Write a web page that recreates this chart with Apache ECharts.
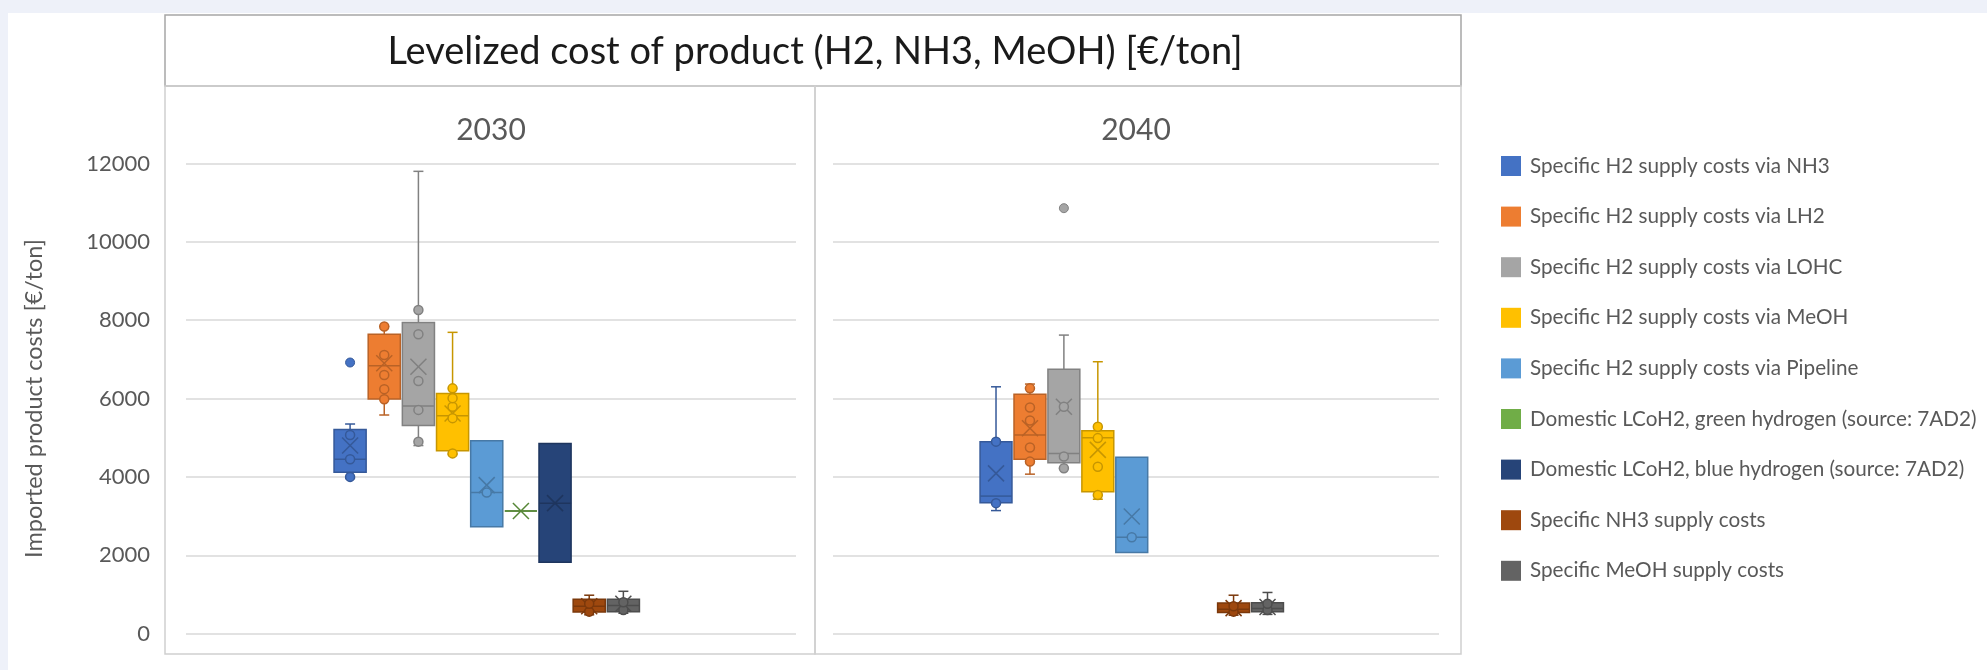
<!DOCTYPE html>
<html><head><meta charset="utf-8">
<script src="https://cdn.jsdelivr.net/npm/echarts@6/dist/echarts.min.js"></script>
<style>html,body{margin:0;padding:0;background:#fff;} #c{width:1987px;height:670px;}</style>
</head><body><div id="c"></div>
<script>
const years = ['2030', '2040'];
const seriesNames = [
  'Specific H2 supply costs via NH3',
  'Specific H2 supply costs via LH2',
  'Specific H2 supply costs via LOHC',
  'Specific H2 supply costs via MeOH',
  'Specific H2 supply costs via Pipeline',
  'Domestic LCoH2, green hydrogen (source: 7AD2)',
  'Domestic LCoH2, blue hydrogen (source: 7AD2)',
  'Specific NH3 supply costs',
  'Specific MeOH supply costs'
];
const seriesColors = ['#4472C4', '#ED7D31', '#A5A5A5', '#FFC000', '#5B9BD5', '#70AD47', '#264478', '#9E480E', '#636363'];
const yMin = 0, yMax = 12000, yStep = 2000;

// box statistics per year: [min, q1, median, q3, max, mean]; null = no data
const boxNH3        = [[3960, 4120, 4450, 5210, 5350, 4800], [3140, 3340, 3510, 4900, 6300, 4090]];
const boxLH2        = [[5580, 5990, 6840, 7640, 7840, 6900], [4070, 4450, 5070, 6110, 6370, 5240]];
const boxLOHC       = [[4800, 5310, 5810, 7940, 11800, 6810], [4220, 4360, 4600, 6750, 7620, 5790]];
const boxMeOH       = [[4580, 4670, 5560, 6130, 7690, 5620], [3430, 3620, 5000, 5180, 6940, 4690]];
const boxPipeline   = [[2730, 2730, 3600, 4920, 4920, 3790], [2070, 2070, 2460, 4500, 4500, 2990]];
const boxGreen      = [[3130, 3130, 3130, 3130, 3130, 3130], null];
const boxBlue       = [[1820, 1820, 3330, 4850, 4850, 3330], null];
const boxNH3Supply  = [[480, 550, 700, 880, 980, 700], [470, 540, 620, 780, 980, 650]];
const boxMeOHSupply = [[520, 560, 720, 880, 1080, 760], [490, 560, 640, 790, 1050, 680]];

// inner data points per year
const ptsNH3        = [[4000, 4450, 5070], [3330, 4900]];
const ptsLH2        = [[5980, 6240, 6600, 7110, 7840], [4390, 4750, 5440, 5770, 6260]];
const ptsLOHC       = [[4900, 5710, 6450, 7640, 8260], [4220, 4520, 5790]];
const ptsMeOH       = [[4600, 5500, 5790, 6010, 6260], [3540, 4260, 4990, 5280]];
const ptsPipeline   = [[3600], [2460]];
const ptsGreen      = [[], []];
const ptsBlue       = [[], []];
const ptsNH3Supply  = [[560, 760], [560, 700]];
const ptsMeOHSupply = [[600, 800], [600, 760]];

// outliers per year
const outNH3  = [[6920], []];
const outLOHC = [[], [10860]];
const outNone = [[], []];

const boxData = [boxNH3, boxLH2, boxLOHC, boxMeOH, boxPipeline, boxGreen, boxBlue, boxNH3Supply, boxMeOHSupply];
const pointData = [ptsNH3, ptsLH2, ptsLOHC, ptsMeOH, ptsPipeline, ptsGreen, ptsBlue, ptsNH3Supply, ptsMeOHSupply];
const outlierData = [outNH3, outNone, outLOHC, outNone, outNone, outNone, outNone, outNone, outNone];

const FONT = 'Lato, "Open Sans", sans-serif';
const SLOT = 0.056, SHIFT = -0.007;

function darken(hex, f) {
  const n = parseInt(hex.slice(1), 16);
  const r = Math.round(((n >> 16) & 255) * (1 - f));
  const g = Math.round(((n >> 8) & 255) * (1 - f));
  const b = Math.round((n & 255) * (1 - f));
  return 'rgb(' + r + ',' + g + ',' + b + ')';
}

function renderBox(s, yi) {
  const color = seriesColors[s];
  const dark = darken(color, 0.22);
  return function (params, api) {
    const bw = api.size([1, 0])[0];
    const slot = bw * SLOT;
    const cx = api.coord([0, 0])[0] + (s - 4) * slot + SHIFT * bw;
    const half = slot * 0.47;
    const Y = v => api.coord([0, v])[1];
    const mn = api.value(1), q1 = api.value(2), md = api.value(3), q3 = api.value(4), mx = api.value(5), mean = api.value(6);
    const ls = { stroke: dark, lineWidth: 1.5 };
    const ch = [];
    const cap = 5;
    if (mx > q3) {
      ch.push({ type: 'line', shape: { x1: cx, y1: Y(mx), x2: cx, y2: Y(q3) }, style: ls });
      ch.push({ type: 'line', shape: { x1: cx - cap, y1: Y(mx), x2: cx + cap, y2: Y(mx) }, style: ls });
    }
    if (mn < q1) {
      ch.push({ type: 'line', shape: { x1: cx, y1: Y(q1), x2: cx, y2: Y(mn) }, style: ls });
      ch.push({ type: 'line', shape: { x1: cx - cap, y1: Y(mn), x2: cx + cap, y2: Y(mn) }, style: ls });
    }
    ch.push({ type: 'rect', shape: { x: cx - half, y: Y(q3), width: 2 * half, height: Math.max(Y(q1) - Y(q3), 0) },
      style: { fill: color, stroke: dark, lineWidth: 1.5 } });
    ch.push({ type: 'line', shape: { x1: cx - half, y1: Y(md), x2: cx + half, y2: Y(md) }, style: ls });
    const ym = Y(mean), mxw = 8, myh = 8;
    ch.push({ type: 'line', shape: { x1: cx - mxw, y1: ym - myh, x2: cx + mxw, y2: ym + myh }, style: ls });
    ch.push({ type: 'line', shape: { x1: cx - mxw, y1: ym + myh, x2: cx + mxw, y2: ym - myh }, style: ls });
    (pointData[s][yi] || []).forEach(v => {
      ch.push({ type: 'circle', shape: { cx: cx, cy: Y(v), r: 4.5 }, style: { fill: color, stroke: dark, lineWidth: 1.5 } });
    });
    (outlierData[s][yi] || []).forEach(v => {
      ch.push({ type: 'circle', shape: { cx: cx, cy: Y(v), r: 4.5 }, style: { fill: color, stroke: dark, lineWidth: 1 } });
    });
    return { type: 'group', children: ch };
  };
}

const series = [];
seriesNames.forEach((name, s) => {
  years.forEach((yr, yi) => {
    const st = boxData[s][yi];
    series.push({
      type: 'custom', name: name, xAxisIndex: yi, yAxisIndex: yi, z: 3,
      itemStyle: { color: seriesColors[s] },
      renderItem: renderBox(s, yi),
      encode: { x: 0, y: [1, 2, 3, 4, 5, 6] },
      data: st ? [[0].concat(st)] : []
    });
  });
});

const grids = [
  { left: 186, width: 610, top: 163.5, bottom: 36.4 },
  { left: 833, width: 606, top: 163.5, bottom: 36.4 }
];

const option = {
  backgroundColor: '#ffffff',
  animation: false,
  title: {
    text: 'Levelized cost of product (H2, NH3, MeOH) [€/ton]',
    left: 810, top: 28, textAlign: 'center',
    textStyle: { fontFamily: FONT, fontSize: 38, fontWeight: 'normal', color: '#1a1a1a' }
  },
  legend: {
    orient: 'vertical', left: 1496, top: 150.5, itemWidth: 20, itemHeight: 20, itemGap: 29.6,
    icon: 'rect', data: seriesNames,
    textStyle: { fontFamily: FONT, fontSize: 20.7, color: '#595959', padding: [0, 0, 0, 4] }
  },
  grid: grids,
  xAxis: years.map((yr, i) => ({
    type: 'category', gridIndex: i, data: [yr], position: 'top',
    axisLine: { show: false }, axisTick: { show: false }, splitLine: { show: false },
    axisLabel: { fontFamily: FONT, fontSize: 30, color: '#595959', margin: 18 }
  })),
  yAxis: years.map((yr, i) => ({
    type: 'value', gridIndex: i, min: yMin, max: yMax, interval: yStep,
    name: i === 0 ? 'Imported product costs [€/ton]' : '',
    nameLocation: 'middle', nameGap: 140,
    nameTextStyle: { fontFamily: FONT, fontSize: 23.5, color: '#595959' },
    axisLine: { show: false }, axisTick: { show: false },
    axisLabel: { show: i === 0, fontFamily: FONT, fontSize: 22, color: '#595959', margin: 36,
      formatter: v => String(v) },
    splitLine: { lineStyle: { color: '#d9d9d9', width: 1.5 } }
  })),
  graphic: [
    { type: 'rect', silent: true, shape: { x: 0, y: 0, width: 1987, height: 13 }, style: { fill: '#eef1f9' } },
    { type: 'rect', silent: true, shape: { x: 0, y: 0, width: 8, height: 670 }, style: { fill: '#eef1f9' } },
    { type: 'rect', silent: true, shape: { x: 165, y: 15, width: 1296, height: 71 }, style: { fill: 'none', stroke: '#a6a6a6', lineWidth: 1.5 } },
    { type: 'rect', silent: true, shape: { x: 165, y: 86, width: 650, height: 568 }, style: { fill: 'none', stroke: '#d0d0d0', lineWidth: 1.5 } },
    { type: 'rect', silent: true, shape: { x: 815, y: 86, width: 646, height: 568 }, style: { fill: 'none', stroke: '#d0d0d0', lineWidth: 1.5 } }
  ],
  series: series
};

const chart = echarts.init(document.getElementById('c'));
chart.setOption(option);
</script>
</body></html>
